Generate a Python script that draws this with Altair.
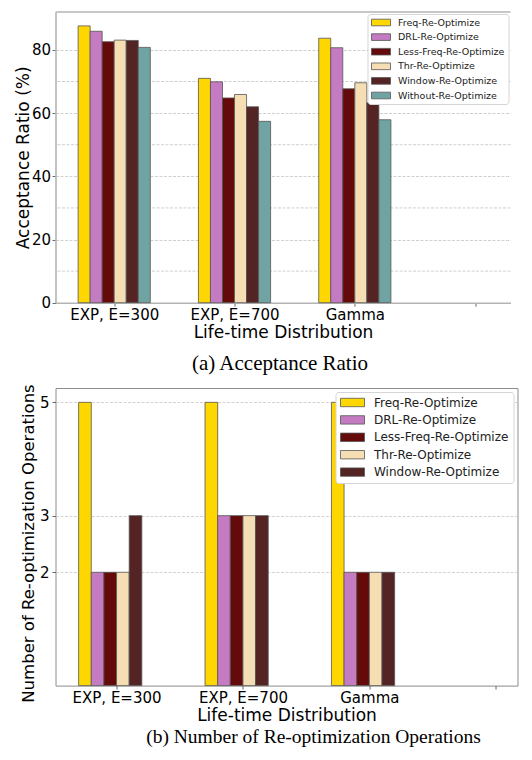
import altair as alt
import pandas as pd

# ---------------- data ----------------
categories = ["EXP, E=300", "EXP, E=700", "Gamma", ""]

series_a = ["Freq-Re-Optimize", "DRL-Re-Optimize", "Less-Freq-Re-Optimize",
            "Thr-Re-Optimize", "Window-Re-Optimize", "Without-Re-Optimize"]
colors_a = ["#FFD700", "#C47BC2", "#650a0a", "#F5DEB3", "#542323", "#70A4A3"]

acc_freq = [87.6, 71.0, 83.7]
acc_drl = [85.9, 69.9, 80.7]
acc_less = [82.6, 64.8, 67.7]
acc_thr = [83.1, 65.9, 69.6]
acc_window = [83.0, 62.0, 63.3]
acc_without = [80.8, 57.4, 57.9]

series_b = series_a[:5]
colors_b = colors_a[:5]

ops_freq = [5, 5, 5]
ops_drl = [2, 3, 2]
ops_less = [2, 3, 2]
ops_thr = [2, 3, 2]
ops_window = [3, 3, 2]

acc_ticks = [0, 20, 40, 60, 80]
acc_minor_grid = [10, 30, 50, 70]
acc_ylim = [0, 92]
ops_ticks = [2, 3, 5]
ops_ylim = [0, 5.253]
xlim_a = [-0.488, 3.294]
xlim_b = [-0.483, 3.172]
x_ticks = [0, 1, 2, 3]
bar_width = 0.1
group_start = -0.3

caption_a = "(a) Acceptance Ratio"
caption_b = "(b) Number of Re-optimization Operations"


def build(series, values):
    rows = []
    for k, (name, vals) in enumerate(zip(series, values)):
        for i, v in enumerate(vals):
            x0 = i + group_start + k * bar_width
            rows.append({"series": name, "x0": x0, "x1": x0 + bar_width,
                         "value": v, "base": 0})
    return pd.DataFrame(rows)


df_a = build(series_a, [acc_freq, acc_drl, acc_less, acc_thr, acc_window, acc_without])
df_b = build(series_b, [ops_freq, ops_drl, ops_less, ops_thr, ops_window])

label_expr = "[" + ",".join("'%s'" % c for c in categories) + "][datum.value]"
FONT = "DejaVu Sans"
SYMBOL = "M-1,-0.35H1V0.35H-1Z"


def x_axis(domain_color=None):
    kw = dict(values=x_ticks, labelExpr=label_expr, title="Life-time Distribution",
              grid=False, labelFont=FONT, labelFontSize=15, labelColor="black",
              titleFont=FONT, titleFontSize=17, titleFontWeight="normal", titleColor="black",
              tickSize=3.5, tickColor="#444", tickWidth=0.8, labelPadding=1.5,
              titlePadding=2, labelAngle=0)
    if domain_color:
        kw.update(domain=True, domainColor=domain_color, domainWidth=1.6)
    else:
        kw.update(domain=False)
    return alt.Axis(**kw)


# ---------------- panel (a) ----------------
grid_a = alt.Chart(pd.DataFrame({"g": acc_minor_grid})).mark_rule(
    color="#c4c4c4", strokeWidth=0.8, strokeDash=[3, 1.5]
).encode(y=alt.Y("g:Q", scale=alt.Scale(domain=acc_ylim, nice=False)))

top_a = alt.Chart(pd.DataFrame({"t": [acc_ylim[1]]})).mark_rule(
    color="#b4b4b4", strokeWidth=1.6
).encode(y="t:Q")

bars_a = alt.Chart(df_a).mark_rect(stroke="#555", strokeWidth=0.8).encode(
    x=alt.X("x0:Q", scale=alt.Scale(domain=xlim_a, nice=False, zero=False),
            axis=x_axis("#b4b4b4")),
    x2="x1:Q",
    y=alt.Y("value:Q", scale=alt.Scale(domain=acc_ylim, nice=False),
            axis=alt.Axis(values=acc_ticks, title="Acceptance Ratio (%)", grid=True,
                          gridColor="#c4c4c4", gridWidth=0.8, gridDash=[3, 1.5],
                          domain=True, domainColor="#b4b4b4", domainWidth=1.6,
                          labelFont=FONT, labelFontSize=15, labelColor="black",
                          titleFont=FONT, titleFontSize=17, titleFontWeight="normal",
                          titleColor="black", tickSize=3.5, tickColor="#444",
                          tickWidth=0.8, labelPadding=1.5, titlePadding=-1)),
    y2="base:Q",
    color=alt.Color("series:N", scale=alt.Scale(domain=series_a, range=colors_a),
                    legend=alt.Legend(title=None, orient="top-right", offset=2,
                                      symbolType=SYMBOL, symbolSize=361,
                                      symbolStrokeColor="#555", symbolStrokeWidth=0.8,
                                      labelFont=FONT, labelFontSize=9.5, labelColor="#222",
                                      labelOffset=7, clipHeight=10, rowPadding=4.6,
                                      columnPadding=0, padding=3.5,
                                      strokeColor="#d5d5d5", fillColor="white",
                                      cornerRadius=3)),
)

spacer_a = alt.Chart(pd.DataFrame({"s": ["."]})).mark_text(
    opacity=0, align="left", fontSize=8
).encode(text="s:N", x=alt.value(-52.5), y=alt.value(150))

panel_a = alt.layer(grid_a, top_a, bars_a, spacer_a).properties(
    width=455, height=290.7,
    view=alt.ViewBackground(stroke="transparent"),
    title=alt.TitleParams(caption_a, orient="bottom", anchor="middle",
                          font="Liberation Serif", fontSize=21, fontWeight="normal",
                          color="black", dx=-3, offset=12),
)

# ---------------- panel (b) ----------------
bars_b = alt.Chart(df_b).mark_rect(stroke="#555", strokeWidth=0.8).encode(
    x=alt.X("x0:Q", scale=alt.Scale(domain=xlim_b, nice=False, zero=False),
            axis=x_axis()),
    x2="x1:Q",
    y=alt.Y("value:Q", scale=alt.Scale(domain=ops_ylim, nice=False),
            axis=alt.Axis(values=ops_ticks, title="Number of Re-optimization Operations",
                          grid=True, gridColor="#c8c8c8", gridWidth=0.8, gridDash=[3, 1.5],
                          domain=False, labelFont=FONT, labelFontSize=15, labelColor="black",
                          titleFont=FONT, titleFontSize=16.5, titleFontWeight="normal",
                          titleColor="black", tickSize=3.5, tickColor="#444",
                          tickWidth=0.8, labelPadding=3, titlePadding=3, titleY=155)),
    y2="base:Q",
    color=alt.Color("series:N", scale=alt.Scale(domain=series_b, range=colors_b),
                    legend=alt.Legend(title=None, orient="top-right", offset=4,
                                      symbolType=SYMBOL, symbolSize=576,
                                      symbolStrokeColor="#555", symbolStrokeWidth=0.8,
                                      labelFont=FONT, labelFontSize=12, labelColor="#222",
                                      labelOffset=9, clipHeight=12, rowPadding=5.4,
                                      columnPadding=0, padding=4.5,
                                      strokeColor="#d5d5d5", fillColor="white",
                                      cornerRadius=3)),
)

cap_b = alt.Chart(pd.DataFrame({"c": [caption_b]})).mark_text(
    font="Liberation Serif", fontSize=19.5, color="black", align="center",
    baseline="alphabetic"
).encode(text="c:N", x=alt.value(258), y=alt.value(355))

panel_b = alt.layer(bars_b, cap_b).properties(
    width=462, height=297.6,
    view=alt.ViewBackground(stroke="#8c8c8c", strokeWidth=1),
)

chart = alt.vconcat(panel_a, panel_b, spacing=8).resolve_scale(
    x="independent", y="independent", color="independent"
).resolve_legend(color="independent").properties(
    padding={"left": -5.5, "top": 2, "right": 0, "bottom": 0},
)

chart.save("out.html", embed_options={"renderer": "svg", "actions": False})
